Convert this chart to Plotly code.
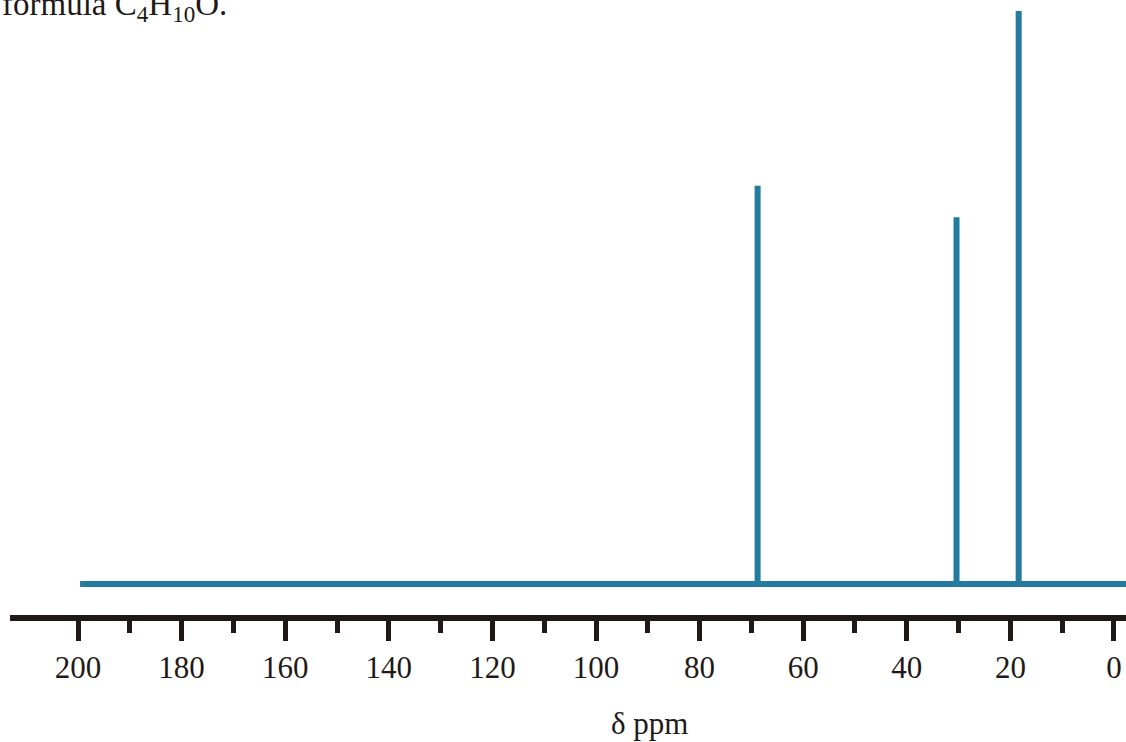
import plotly.graph_objects as go

# 13C NMR stick spectrum (chemical shift in ppm, relative intensity)
shifts = [68.8, 30.4, 18.4]
intensities = [69.5, 64.0, 100.0]
baseline_span = [199.6, -3.0]

major_ticks = list(range(0, 201, 20))
minor_ticks = list(range(10, 200, 20))
tick_labels = [str(v) for v in major_ticks]

BLUE = "#257a9f"
INK = "#1f1a17"
FONT = "Liberation Serif"

# plot area in pixels, used to place the free-standing texts
PLOT_L, PLOT_W, PLOT_H = 10, 1116, 615


def paper_x(px):
    return (px - PLOT_L) / PLOT_W


def paper_y(py):
    return (PLOT_H - py) / PLOT_H


fig = go.Figure()

# flat baseline
fig.add_trace(go.Scatter(
    x=baseline_span, y=[0, 0], mode="lines",
    line=dict(color=BLUE, width=6), hoverinfo="skip", showlegend=False,
))

# one vertical stick per resonance
sx, sy = [], []
for s, h in zip(shifts, intensities):
    sx += [s, s, None]
    sy += [0, h, None]
fig.add_trace(go.Scatter(
    x=sx, y=sy, mode="lines",
    line=dict(color=BLUE, width=6), hoverinfo="skip", showlegend=False,
))

fig.update_layout(
    width=1126, height=742,
    margin=dict(l=PLOT_L, r=0, t=0, b=742 - PLOT_H),
    paper_bgcolor="white", plot_bgcolor="white",
    font=dict(family=FONT, size=31, color=INK),
    xaxis=dict(
        range=[213.13, -2.32],
        showgrid=False, zeroline=False,
        showline=True, linecolor=INK, linewidth=6,
        ticks="outside", ticklen=20, tickwidth=5, tickcolor=INK,
        tickmode="array", tickvals=major_ticks, ticktext=tick_labels,
        tickfont=dict(family=FONT, size=31, color=INK),
        minor=dict(tickmode="array", tickvals=minor_ticks, ticks="outside",
                   ticklen=12, tickwidth=5, tickcolor=INK, showgrid=False),
    ),
    yaxis=dict(range=[-5.41, 101.92], visible=False),
    annotations=[
        dict(
            text="formula C<sub>4</sub>H<sub>10</sub>O.",
            xref="paper", yref="paper", x=paper_x(0), y=paper_y(0),
            xanchor="left", yanchor="middle", yshift=-6,
            showarrow=False, font=dict(family=FONT, size=33, color=INK),
        ),
        dict(
            text="δ ppm",
            xref="paper", yref="paper", x=paper_x(649), y=paper_y(723),
            xanchor="center", yanchor="middle",
            showarrow=False, font=dict(family=FONT, size=31, color=INK),
        ),
    ],
)

fig.write_html("out.html")
